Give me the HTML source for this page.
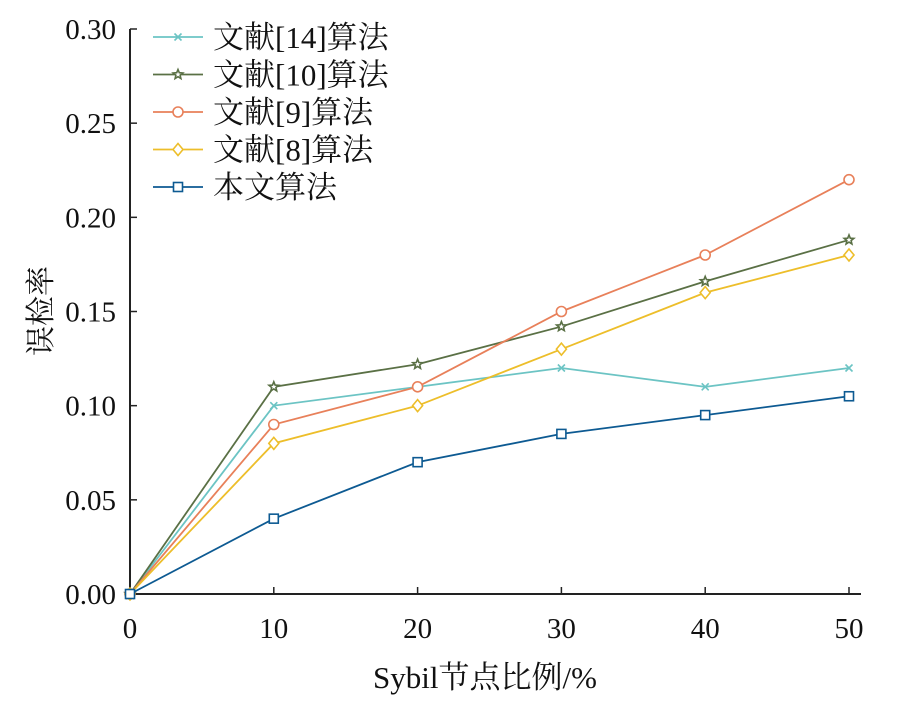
<!DOCTYPE html>
<html><head><meta charset="utf-8">
<style>body{margin:0;background:#fff}svg{display:block}text{font-family:"Liberation Serif","Noto Serif CJK SC",serif;fill:#111}</style></head>
<body>
<svg id="chart" width="923" height="702" viewBox="0 0 923 702"></svg>
<script>
const categories=[0,10,20,30,40,50];
const yTicks=[0,0.05,0.10,0.15,0.20,0.25,0.30];
const yTickLabels=["0.00","0.05","0.10","0.15","0.20","0.25","0.30"];
const seriesNames=["文献[14]算法","文献[10]算法","文献[9]算法","文献[8]算法","本文算法"];
const seriesColors=["#6cc4c4","#5a7045","#e8805a","#edbe2a","#0d5a92"];
const seriesMarkers=["x","star","circle","diamond","square"];
const s14=[0,0.10,0.11,0.12,0.11,0.12];
const s10=[0,0.11,0.122,0.142,0.166,0.188];
const s9=[0,0.09,0.11,0.15,0.18,0.22];
const s8=[0,0.08,0.10,0.13,0.16,0.18];
const sOurs=[0,0.04,0.07,0.085,0.095,0.105];
const seriesValues=[s14,s10,s9,s8,sOurs];

const NS="http://www.w3.org/2000/svg";
const svg=document.getElementById('chart');
const X0=130,X1=849,Y0=594,Y1=29;
const xs=v=>X0+(v-0)/(50-0)*(X1-X0);
const ys=v=>Y0-(v-0)/(0.30-0)*(Y0-Y1);
function mk(t,a,p){const e=document.createElementNS(NS,t);for(const k in a)e.setAttribute(k,a[k]);(p||svg).appendChild(e);return e;}

const ax=mk('line',{x1:X0,y1:Y1,x2:X0,y2:Y0,stroke:'#222','stroke-width':2});


const bx=mk('line',{x1:X0,y1:Y0,x2:X1+12,y2:Y0,stroke:'#222','stroke-width':2});


yTicks.forEach((v,i)=>{
  const y=ys(v);
  const t=mk('line',{x1:X0,y1:y,x2:X0+7,y2:y,stroke:'#222','stroke-width':1.5});
  
  
  const l=mk('text',{x:116,y:y+10,'text-anchor':'end','font-size':29});
  l.textContent=yTickLabels[i];
  
  
});
categories.forEach(c=>{
  const x=xs(c);
  if(c!==0){const t=mk('line',{x1:x,y1:Y0,x2:x,y2:Y0-7,stroke:'#222','stroke-width':1.5});
  
  }
  const l=mk('text',{x:x,y:638,'text-anchor':'middle','font-size':29});
  l.textContent=c;
  
  
});
const xt=mk('text',{x:485,y:688,'text-anchor':'middle','font-size':31});
xt.textContent='Sybil节点比例/%';


const yt=mk('text',{x:0,y:0,'text-anchor':'middle','font-size':30,transform:'translate(51,311) rotate(-90)'});
yt.textContent='误检率';



function marker(type,x,y,c,g){
  const a={fill:'#fff',stroke:c,'stroke-width':1.6};
  if(type==='x'){mk('path',{d:`M${x-3.5} ${y-3.5}L${x+3.5} ${y+3.5}M${x-3.5} ${y+3.5}L${x+3.5} ${y-3.5}`,stroke:c,'stroke-width':1.6},g);}
  else if(type==='circle')mk('circle',Object.assign({cx:x,cy:y,r:5},a),g);
  else if(type==='square')mk('rect',Object.assign({x:x-4.5,y:y-4.5,width:9,height:9},a),g);
  else if(type==='diamond')mk('path',Object.assign({d:`M${x} ${y-6}L${x+5} ${y}L${x} ${y+6}L${x-5} ${y}Z`},a),g);
  else {let p='';for(let i=0;i<10;i++){const r=i%2?2.2:5,an=-Math.PI/2+i*Math.PI/5;p+=(i?'L':'M')+(x+r*Math.cos(an)).toFixed(1)+' '+(y+r*Math.sin(an)).toFixed(1);}mk('path',Object.assign({d:p+'Z'},a),g);}
}
seriesValues.forEach((vals,si)=>{
  const g=mk('g',{});
  
  
  const pl=mk('polyline',{points:vals.map((v,i)=>xs(categories[i])+','+ys(v)).join(' '),fill:'none',stroke:seriesColors[si],'stroke-width':1.8},g);
  
  
  vals.forEach((v,i)=>marker(seriesMarkers[si],xs(categories[i]),ys(v),seriesColors[si],g));
});
seriesNames.forEach((n,i)=>{
  const y=37+i*37.5;
  const g=mk('g',{});
  
  
  mk('line',{x1:153,y1:y,x2:203,y2:y,stroke:seriesColors[i],'stroke-width':1.8},g);
  marker(seriesMarkers[i],178,y,seriesColors[i],g);
  const t=mk('text',{x:213,y:y+11,'font-size':31},g);
  t.textContent=n;
});
</script>
</body></html>
